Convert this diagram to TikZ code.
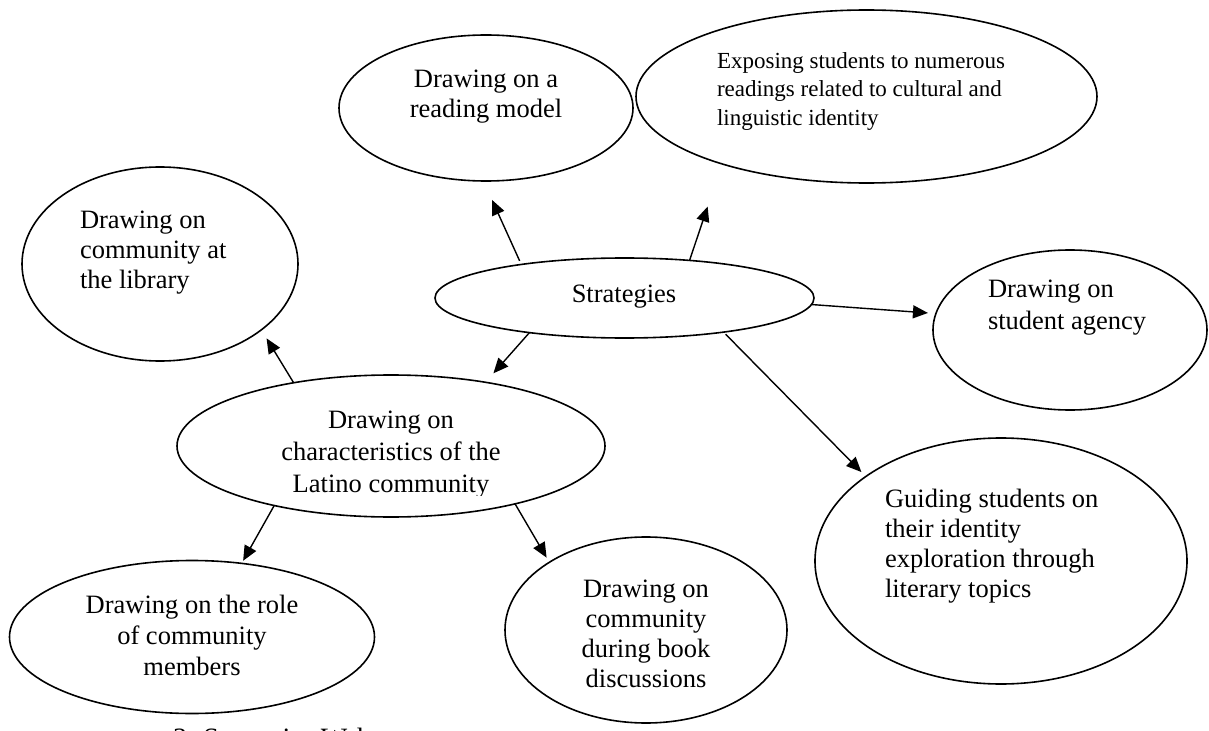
\documentclass[tikz,border=0pt]{standalone}
\usepackage{fontspec}
\setmainfont{Liberation Serif}
\usetikzlibrary{arrows.meta,shapes.geometric}
\begin{document}
\begin{tikzpicture}[x=1bp,y=-1bp,
  ell/.style={ellipse, draw=black, line width=1.6bp, fill=white, inner sep=0pt, outer sep=0pt},
  arr/.style={draw=black, line width=1.4bp, -{Triangle[length=15bp,width=13bp]}},
  txt/.style={inner sep=0pt, outer sep=0pt, font=\fontsize{26.5bp}{30bp}\selectfont},
  txtB/.style={inner sep=0pt, outer sep=0pt, font=\fontsize{26.5bp}{32bp}\selectfont},
  txtC/.style={inner sep=0pt, outer sep=0pt, font=\fontsize{26.5bp}{31bp}\selectfont},
  txtS/.style={inner sep=0pt, outer sep=0pt, font=\fontsize{23bp}{28bp}\selectfont}]
\useasboundingbox (0,0) rectangle (1209,731);
\clip (0,0) rectangle (1209,731);

% ellipses
\node[ell, minimum width=294bp, minimum height=146bp] (read) at (486,108) {};
\node[ell, minimum width=461bp, minimum height=173bp] (expo) at (866.5,96.5) {};
\node[ell, minimum width=276bp, minimum height=194bp] (lib) at (160,264) {};
\node[ell, minimum width=379bp, minimum height=80bp] (strat) at (624.5,298) {};
\node[ell, minimum width=274bp, minimum height=160bp] (agen) at (1070,330) {};
\node[ell, minimum width=372bp, minimum height=246bp] (guid) at (1001,561) {};
\node[ell, minimum width=428bp, minimum height=142bp] (lat) at (391,446) {};
\node[ell, minimum width=365bp, minimum height=153bp] (role) at (192,637) {};
\node[ell, minimum width=282bp, minimum height=186bp] (disc) at (646,630) {};

% connectors
\draw[arr, shorten <=4bp, shorten >=20.8bp] (strat.162.2) -- (read.268.1);
\draw[arr, shorten >=45bp] (strat.30.9) -- (expo.205.6);
\draw[arr, shorten >=8bp] (strat.358.5) -- (agen.173.1);
\draw[arr, shorten <=3bp, shorten >=6.3bp] (strat.341.5) -- (guid.148.6);
\draw[arr, shorten >=12bp] (strat.200.9) -- (lat.34.5);
\draw[arr, shorten >=10bp] (lat.147.4) -- (lib.327.4);
\draw[arr, shorten >=3bp] (lat.207.7) -- (role.56.4);
\draw[arr, shorten >=5.4bp] (lat.335.3) -- (disc.145.4);

% texts
\node[txt, anchor=north, align=center] (tread) at (486,67) {\strut Drawing on a\\reading model};
\node[txtS, anchor=north west, align=left] (texpo) at (717,49.4) {\strut Exposing students to numerous\\readings related to cultural and\\linguistic identity};
\node[txt, anchor=north west, align=left] (tlib) at (80,207) {\strut Drawing on\\community at\\the library};
\node[txt, anchor=base] (tstrat) at (624,302) {Strategies};
\node[txtB, anchor=north west, align=left] (tagen) at (988,274.6) {\strut Drawing on\\student agency};
\node[txt, anchor=north west, align=left] (tguid) at (885,486) {\strut Guiding students on\\their identity\\exploration through\\literary topics};
\begin{scope}
\clip (0,0) rectangle (1209,495);
\node[txtB, anchor=north, align=center] (tlat) at (391,405.6) {\strut Drawing on\\characteristics of the\\Latino community};
\end{scope}
\node[txtC, anchor=north, align=center] (trole) at (192,591.3) {\strut Drawing on the role\\of community\\members};
\node[inner sep=0pt, outer sep=0pt, font=\fontsize{26.5bp}{30.3bp}\selectfont, anchor=north, align=center] (tdisc) at (646,575.8) {\strut Drawing on\\community\\during book\\discussions};
\node[inner sep=0pt, outer sep=0pt, font=\fontsize{28bp}{32bp}\selectfont, anchor=base west] (cap) at (173,747.5) {3. Strategies Web};
\end{tikzpicture}
\end{document}
